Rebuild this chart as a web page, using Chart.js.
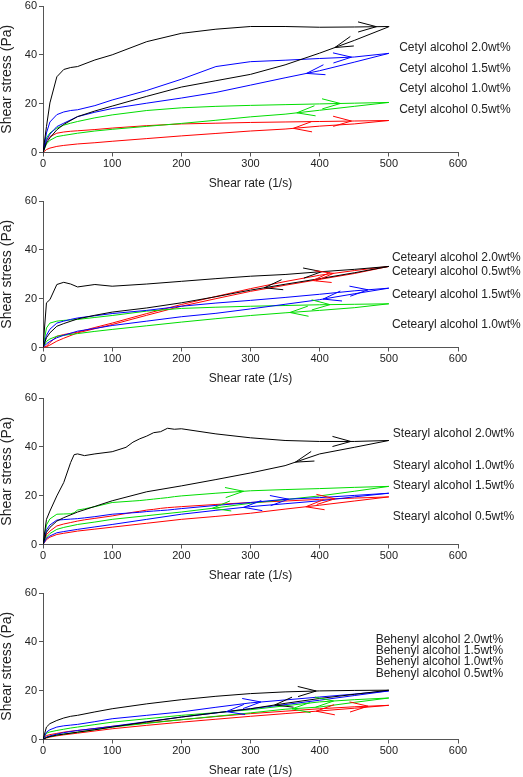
<!DOCTYPE html>
<html>
<head>
<meta charset="utf-8">
<script src="https://cdn.jsdelivr.net/npm/chart.js@4.4.0/dist/chart.umd.min.js"></script>
<style>
  body { margin: 0; background: #fff; overflow: hidden; }
  #wrap { position: relative; width: 523px; height: 777px; }
  canvas { position: absolute; left: 0; }
</style>
</head>
<body>
<div id="wrap">
  <canvas id="c1" width="523" height="190" style="top:0px"></canvas>
  <canvas id="c2" width="523" height="190" style="top:195px"></canvas>
  <canvas id="c3" width="523" height="190" style="top:392px"></canvas>
  <canvas id="c4" width="523" height="190" style="top:587px"></canvas>
</div>
<script>
// shear rate grids (1/s): ramp up then ramp down
const rateUp = [0, 5, 10, 20, 30, 40, 50, 75, 100, 150, 200, 250, 300, 350, 400, 450, 500];
const rateUpFine = [0, 5, 10, 20, 30, 40, 45, 50, 60, 75, 100, 120, 130, 140, 150, 160, 170, 180, 190, 200, 250, 300, 350, 400, 450, 500];
const rateDown = [500, 450, 400, 350, 300, 250, 200, 150, 100, 75, 50, 30, 20, 10, 5, 0];

// Cetyl alcohol, shear stress (Pa)
const cetyl20Up = [0, 10.6, 20.3, 31, 34, 34.8, 35.2, 37.9, 40, 45.4, 48.8, 50.5, 51.6, 51.6, 51.3, 51.4, 51.6];
const cetyl20Down = [51.5, 45.9, 40.7, 35.9, 32, 29.4, 26.8, 23, 19, 17, 14.7, 11.5, 9.3, 6, 4, 0];
const cetyl15Up = [0, 8, 12.5, 15.5, 16.6, 17.2, 17.5, 19.2, 21.5, 25.4, 30, 35.2, 37.2, 37.8, 38.5, 39.1, 40.6];
const cetyl15Down = [40.6, 37, 33.5, 30.6, 27.6, 24.6, 22.3, 20.2, 18, 16.5, 14.7, 12, 10.6, 7.5, 5, 0];
const cetyl10Up = [0, 6, 8, 10, 11.2, 12, 12.7, 14.2, 15.4, 17.2, 18.3, 18.9, 19.3, 19.6, 19.9, 20.2, 20.5];
const cetyl10Down = [20.5, 18.9, 17.3, 15.7, 14.6, 13.2, 11.9, 10.7, 9.5, 8.8, 7.9, 7, 6.5, 5, 3.5, 0];
const cetyl05Up = [0, 5, 6.5, 7.9, 8.4, 8.7, 8.9, 9.4, 10, 11, 11.7, 12, 12.3, 12.5, 12.7, 12.9, 13.1];
const cetyl05Down = [13.1, 11.7, 10.8, 9.6, 8.8, 7.8, 6.8, 5.7, 4.6, 4, 3.5, 2.9, 2.5, 1.8, 1.2, 0];

// Cetearyl alcohol
const cetearyl20Up = [0, 18.3, 19.6, 25.8, 26.7, 26, 24.8, 25.8, 25.1, 26, 27.1, 28.2, 29.2, 29.9, 31, 32, 33.2];
const cetearyl20Down = [33.2, 30.6, 28.2, 25.9, 23.5, 20.8, 18.3, 16.2, 14.5, 13.2, 11.7, 9.8, 8.7, 6, 4, 0];
const cetearyl15Up = [0, 5, 7.5, 10, 10.8, 11.5, 12.1, 13, 13.9, 15.2, 16.9, 18.2, 19.3, 20.5, 21.8, 23.2, 24.3];
const cetearyl15Down = [24.3, 22, 19.6, 17.7, 15.8, 14, 12.6, 10.8, 9, 7.8, 6.7, 5, 4, 2.5, 1.5, 0];
const cetearyl10Up = [0, 8, 10, 10.8, 11.1, 11.3, 11.5, 12.3, 13.1, 14.9, 16, 16.5, 16.9, 17.2, 17.5, 17.7, 17.9];
const cetearyl10Down = [17.9, 16.3, 15.2, 14.2, 13.1, 11.8, 10.4, 8.9, 7.4, 6.6, 5.7, 5, 4.6, 3.5, 2.5, 0];
const cetearyl05Up = [0, 0.5, 2, 4.6, 5.3, 5.8, 6.3, 8.2, 10, 13.9, 17.6, 20.9, 24.1, 27, 29.6, 31.5, 33.2];
const cetearyl05Down = [33.2, 30.3, 27.9, 25.5, 23, 20, 16.9, 13.2, 9.4, 7.7, 6, 3.8, 2.6, 1, 0.3, 0];

// Stearyl alcohol (fine ramp-up grid)
const stearyl20Up = [0, 10.3, 13.7, 19.9, 25.4, 33.6, 36.8, 37.1, 36.4, 37.1, 38, 39.8, 41.9, 43.3, 44.4, 45.8, 46.2, 47.6, 47.2, 47.4, 45.3, 43.7, 42.6, 42.2, 42.2, 42.6];
const stearyl20Down = [42.6, 39.8, 37.1, 32.3, 29.3, 26.6, 24, 21.6, 17.9, 15.6, 13.3, 11, 9.6, 7, 5, 0];
const stearyl15Up = [0, 6, 8, 10, 10.2, 10.4, 10.5, 10.6, 10.9, 11.4, 12.4, 12.8, 13, 13.2, 13.5, 13.7, 13.9, 14.1, 14.4, 14.7, 16, 17.2, 18.5, 19.2, 20.1, 21];
const stearyl15Down = [21, 19.5, 17.9, 16.7, 15.5, 14, 12.4, 10.3, 8.2, 7.2, 6.2, 5.3, 4.8, 3.5, 2.5, 0];
const stearyl10Up = [0, 8, 10.5, 12.4, 12.5, 12.6, 13, 14.1, 14.6, 15.5, 17.2, 17.6, 17.8, 18, 18.3, 18.6, 18.9, 19.2, 19.6, 19.9, 21, 22, 22.5, 22.9, 23.4, 23.8];
const stearyl10Down = [23.8, 21.8, 19.9, 18.4, 16.9, 15, 13.3, 11.8, 10.3, 9.2, 8.2, 7, 6.2, 4.5, 3, 0];
const stearyl05Up = [0, 4, 5.5, 7.6, 8.4, 9, 9.3, 9.6, 10.1, 10.7, 11.7, 12.7, 13.2, 13.6, 14.1, 14.4, 14.8, 15.1, 15.3, 15.5, 16.4, 17.2, 17.8, 18.5, 19, 19.5];
const stearyl05Down = [19.5, 17.8, 16.1, 14.5, 12.8, 11.5, 10.3, 8.7, 7.1, 6.3, 5.5, 4.6, 4.1, 3, 2, 0];

// Behenyl alcohol
const behenyl20Up = [0, 5.1, 6.5, 7.8, 8.8, 9.5, 9.9, 11.3, 12.6, 14.6, 16.3, 17.7, 18.8, 19.5, 19.9, 20.1, 20.2];
const behenyl20Down = [20.2, 18.5, 16.8, 14.8, 12.6, 10.9, 9.2, 7.2, 5.1, 4, 3, 2.2, 1.8, 1.2, 0.8, 0];
const behenyl15Up = [0, 3, 4, 5.1, 5.6, 5.9, 6.2, 7.3, 8.5, 9.9, 11.3, 13.2, 15, 16.2, 17.4, 18.6, 19.9];
const behenyl15Down = [19.9, 18, 16.1, 14.3, 12.6, 10.9, 9.2, 7.3, 5.4, 4.5, 3.7, 2.8, 2.2, 1.5, 1, 0];
const behenyl10Up = [0, 2.6, 3.1, 3.7, 4.2, 4.7, 5.1, 6.1, 7.1, 8.5, 9.9, 11, 12.2, 13.8, 15.4, 16.3, 17];
const behenyl10Down = [17, 15.2, 13.3, 12.4, 10.9, 9.5, 8.1, 6.6, 5.1, 4, 3, 2.2, 1.8, 1.2, 0.8, 0];
const behenyl05Up = [0, 1.6, 2, 2.5, 3, 3.4, 3.7, 4.5, 5.4, 6.8, 8.1, 9.4, 10.6, 11.6, 12.6, 13.4, 14];
const behenyl05Down = [14, 12.8, 11.7, 10.6, 9.5, 8.3, 7.1, 5.8, 4.4, 3.5, 2.6, 1.9, 1.5, 1, 0.6, 0];

// shear rate where the direction arrows sit on each branch: [up, down]
const cetylArrows = [[482, 422], [446, 381], [430, 367], [446, 362]];
const cetearylArrows = [[403, 320], [470, 405], [415, 357], [420, 390]];
const stearylArrows = [[445, 365], [355, 290], [290, 245], [422, 380]];
const behenylArrows = [[395, 335], [315, 265], [420, 360], [470, 395]];

// 2.0, 1.5, 1.0, 0.5 wt%
const colors = ['#000000', '#0000ff', '#00dd00', '#ff0000'];

function pts(xs, ys) { return xs.map((x, i) => ({ x: x, y: ys[i] })); }

function interp(branch, x) {
  const p = branch.slice().sort((a, b) => a.x - b.x);
  for (let i = 1; i < p.length; i++) {
    if (x <= p[i].x) {
      const t = (x - p[i - 1].x) / (p[i].x - p[i - 1].x);
      return p[i - 1].y + t * (p[i].y - p[i - 1].y);
    }
  }
  return p[p.length - 1].y;
}

// open V arrowheads along the loop branches
const arrowPlugin = {
  id: 'arrows',
  afterDatasetsDraw(chart, args, opts) {
    const { ctx } = chart;
    const xs = chart.scales.x, ys = chart.scales.y;
    (opts.list || []).forEach((pair, i) => {
      const ds = chart.data.datasets[i];
      [1, -1].forEach((dir, k) => {
        const branch = dir > 0 ? ds.upPts : ds.downPts;
        const ax = pair[k];
        const tx = xs.getPixelForValue(ax), ty = ys.getPixelForValue(interp(branch, ax));
        const bx = xs.getPixelForValue(ax - dir * 15), by = ys.getPixelForValue(interp(branch, ax - dir * 15));
        const ang = Math.atan2(by - ty, bx - tx);
        ctx.save();
        ctx.strokeStyle = ds.borderColor;
        ctx.lineWidth = 1;
        ctx.beginPath();
        [0.27, -0.27].forEach(d => {
          ctx.moveTo(tx, ty);
          ctx.lineTo(tx + 19 * Math.cos(ang + d), ty + 19 * Math.sin(ang + d));
        });
        ctx.stroke();
        ctx.restore();
      });
    });
  }
};

const textPlugin = {
  id: 'seriesText',
  afterDraw(chart, args, opts) {
    const { ctx } = chart;
    const xs = chart.scales.x, ys = chart.scales.y;
    ctx.save();
    ctx.fillStyle = '#222';
    ctx.font = '12px "Liberation Sans", Arial, sans-serif';
    ctx.textAlign = 'left';
    ctx.textBaseline = 'middle';
    (opts.items || []).forEach(t => {
      ctx.fillText(t.text, xs.getPixelForValue(t.x), ys.getPixelForValue(t.y));
    });
    ctx.restore();
  }
};

function makePanel(id, name, up, ups, downs, arrows, textX, textY, textOrder) {
  const conc = ['2.0', '1.5', '1.0', '0.5'];
  const datasets = ups.map((u, i) => {
    const upPts = pts(up, u);
    const downPts = pts(rateDown, downs[i]);
    return {
      label: name + ' ' + conc[i] + 'wt%',
      data: upPts.concat(downPts),
      upPts: upPts,
      downPts: downPts,
      showLine: true,
      borderColor: colors[i],
      borderWidth: 1,
      pointRadius: 0,
      tension: 0
    };
  });
  const items = textOrder.map((c, j) => ({ text: name + ' ' + c + 'wt%', x: textX, y: textY[j] }));
  const tickFont = { family: '"Liberation Sans", Arial, sans-serif', size: 11, lineHeight: 1 };
  new Chart(document.getElementById(id), {
    type: 'scatter',
    data: { datasets: datasets },
    plugins: [arrowPlugin, textPlugin],
    options: {
      responsive: false,
      animation: false,
      devicePixelRatio: 1,
      layout: { padding: { top: 6, right: 65, left: 0, bottom: 0 } },
      plugins: {
        legend: { display: false },
        tooltip: { enabled: false },
        arrows: { list: arrows },
        seriesText: { items: items }
      },
      scales: {
        x: {
          type: 'linear', min: 0, max: 600,
          ticks: { stepSize: 100, color: '#222', font: tickFont, padding: 2, maxRotation: 0 },
          grid: { drawOnChartArea: false, drawTicks: true, tickLength: 4, color: '#555' },
          border: { display: true, color: '#555', width: 1 },
          title: { display: true, text: 'Shear rate (1/s)', color: '#222',
                   font: { family: '"Liberation Sans", Arial, sans-serif', size: 12, lineHeight: 1 },
                   padding: { top: 0, bottom: 0 } },
          afterFit(s) { s.height = 37.5; s.paddingLeft = 0; s.paddingRight = 0; }
        },
        y: {
          type: 'linear', min: 0, max: 60,
          ticks: { stepSize: 20, color: '#222', font: tickFont, padding: 2 },
          grid: { drawOnChartArea: false, drawTicks: true, tickLength: 4, color: '#555' },
          border: { display: true, color: '#555', width: 1 },
          title: { display: true, text: 'Shear stress (Pa)', color: '#222',
                   font: { family: '"Liberation Sans", Arial, sans-serif', size: 14, lineHeight: 1 },
                   padding: { top: 0, bottom: 0 } },
          afterFit(s) { s.width = 43; s.paddingTop = 0; s.paddingBottom = 0; }
        }
      }
    }
  });
}

makePanel('c1', 'Cetyl alcohol', rateUp,
  [cetyl20Up, cetyl15Up, cetyl10Up, cetyl05Up],
  [cetyl20Down, cetyl15Down, cetyl10Down, cetyl05Down],
  cetylArrows, 515, [42.9, 34.2, 26.3, 17.4], ['2.0', '1.5', '1.0', '0.5']);

makePanel('c2', 'Cetearyl alcohol', rateUp,
  [cetearyl20Up, cetearyl15Up, cetearyl10Up, cetearyl05Up],
  [cetearyl20Down, cetearyl15Down, cetearyl10Down, cetearyl05Down],
  cetearylArrows, 504.5, [36.8, 31.1, 21.7, 9.4], ['2.0', '0.5', '1.5', '1.0']);

makePanel('c3', 'Stearyl alcohol', rateUpFine,
  [stearyl20Up, stearyl15Up, stearyl10Up, stearyl05Up],
  [stearyl20Down, stearyl15Down, stearyl10Down, stearyl05Down],
  stearylArrows, 505.8, [45.5, 32.1, 24.2, 11.2], ['2.0', '1.0', '1.5', '0.5']);

makePanel('c4', 'Behenyl alcohol', rateUp,
  [behenyl20Up, behenyl15Up, behenyl10Up, behenyl05Up],
  [behenyl20Down, behenyl15Down, behenyl10Down, behenyl05Down],
  behenylArrows, 481, [41.0, 36.3, 31.8, 27.0], ['2.0', '1.5', '1.0', '0.5']);
</script>
</body>
</html>
